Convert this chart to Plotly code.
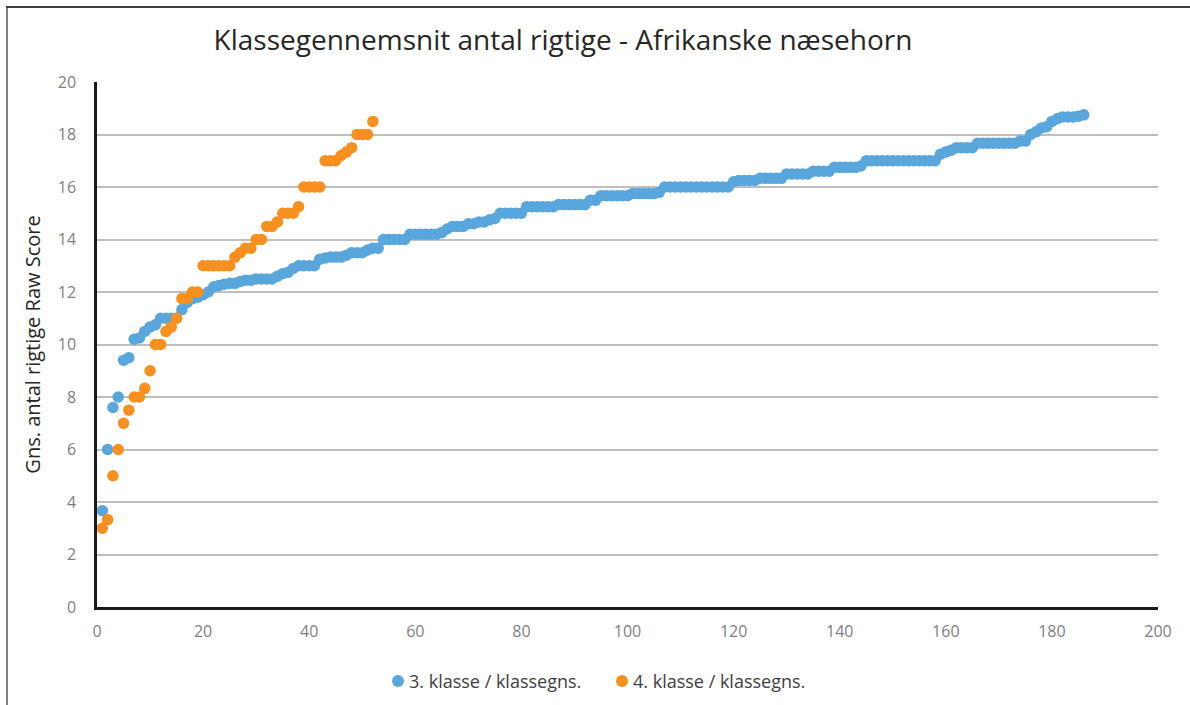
"""
Klassegennemsnit antal rigtige - Afrikanske naesehorn
Scatter of class averages, sorted ascending
"""
import plotly.graph_objects as go

TITLE = "Klassegennemsnit antal rigtige - Afrikanske næsehorn"
Y_TITLE = "Gns. antal rigtige Raw Score"
SERIES_NAMES = ["3. klasse / klassegns.", "4. klasse / klassegns."]

# 3. klasse, 186 classes sorted by average
grade3_scores = [
    3.67, 6.0, 7.6, 8.0, 9.4, 9.5, 10.2, 10.25, 10.5, 10.67,
    10.75, 11.0, 11.0, 11.0, 11.0, 11.33, 11.6, 11.75, 11.8, 11.9,
    12.0, 12.2, 12.25, 12.3, 12.33, 12.33, 12.4, 12.45, 12.45, 12.5,
    12.5, 12.5, 12.5, 12.6, 12.7, 12.75, 12.9, 13.0, 13.0, 13.0,
    13.0, 13.25, 13.3, 13.33, 13.33, 13.33, 13.4, 13.5, 13.5, 13.5,
    13.6, 13.67, 13.67, 14.0, 14.0, 14.0, 14.0, 14.0, 14.2, 14.2,
    14.2, 14.2, 14.2, 14.2, 14.27, 14.4, 14.5, 14.5, 14.5, 14.6,
    14.6, 14.67, 14.67, 14.75, 14.8, 15.0, 15.0, 15.0, 15.0, 15.0,
    15.25, 15.25, 15.25, 15.25, 15.25, 15.25, 15.33, 15.33, 15.33, 15.33,
    15.33, 15.33, 15.5, 15.5, 15.67, 15.67, 15.67, 15.67, 15.67, 15.67,
    15.75, 15.75, 15.75, 15.75, 15.75, 15.8, 16.0, 16.0, 16.0, 16.0,
    16.0, 16.0, 16.0, 16.0, 16.0, 16.0, 16.0, 16.0, 16.0, 16.2,
    16.25, 16.25, 16.25, 16.25, 16.33, 16.33, 16.33, 16.33, 16.33, 16.5,
    16.5, 16.5, 16.5, 16.5, 16.6, 16.6, 16.6, 16.6, 16.75, 16.75,
    16.75, 16.75, 16.75, 16.8, 17.0, 17.0, 17.0, 17.0, 17.0, 17.0,
    17.0, 17.0, 17.0, 17.0, 17.0, 17.0, 17.0, 17.0, 17.25, 17.33,
    17.4, 17.5, 17.5, 17.5, 17.5, 17.67, 17.67, 17.67, 17.67, 17.67,
    17.67, 17.67, 17.67, 17.75, 17.75, 18.0, 18.1, 18.25, 18.3, 18.5,
    18.6, 18.67, 18.67, 18.67, 18.7, 18.75,
]

# 4. klasse, 52 classes sorted by average
grade4_scores = [
    3.0, 3.33, 5.0, 6.0, 7.0, 7.5, 8.0, 8.0, 8.33, 9.0,
    10.0, 10.0, 10.5, 10.67, 11.0, 11.75, 11.75, 12.0, 12.0, 13.0,
    13.0, 13.0, 13.0, 13.0, 13.0, 13.33, 13.5, 13.67, 13.67, 14.0,
    14.0, 14.5, 14.5, 14.67, 15.0, 15.0, 15.0, 15.25, 16.0, 16.0,
    16.0, 16.0, 17.0, 17.0, 17.0, 17.2, 17.33, 17.5, 18.0, 18.0,
    18.0, 18.5,
]

grade3_rank = list(range(1, len(grade3_scores) + 1))
grade4_rank = list(range(1, len(grade4_scores) + 1))

x_ticks = [0, 20, 40, 60, 80, 100, 120, 140, 160, 180, 200]
y_ticks = [0, 2, 4, 6, 8, 10, 12, 14, 16, 18, 20]

BLUE = "#58A6DC"
ORANGE = "#F7901E"
FONT = "Open Sans, Noto Sans, sans-serif"

fig = go.Figure()
fig.add_trace(go.Scatter(
    x=grade3_rank, y=grade3_scores, mode="markers", name=SERIES_NAMES[0],
    marker=dict(color=BLUE, size=11.5, line=dict(width=0)), showlegend=False,
))
fig.add_trace(go.Scatter(
    x=grade4_rank, y=grade4_scores, mode="markers", name=SERIES_NAMES[1],
    marker=dict(color=ORANGE, size=11.5, line=dict(width=0)), showlegend=False,
))

# plot area: x 97..1158 px, y 82..607 px
L, R, T, B = 97, 32, 82, 98
W, H = 1190, 705
pw, ph = W - L - R, H - T - B


def px_x(p):
    return (p - L) / pw


def px_y(p):
    return (H - B - p) / ph


# legend drawn by hand (dot + text) so the spacing matches the Excel legend
legend_items = [
    (SERIES_NAMES[0], BLUE, 398),
    (SERIES_NAMES[1], ORANGE, 622),
]
LEGEND_Y = 681
annotations = []
legend_dots = []
for name, c, xp in legend_items:
    annotations.append(dict(
        text=name, x=px_x(xp + 9), y=px_y(LEGEND_Y), xref="paper", yref="paper",
        xanchor="left", yanchor="middle", showarrow=False,
        font=dict(size=18, color="#404040", family=FONT)))
    legend_dots.append(dict(
        type="circle", xref="paper", yref="paper",
        xsizemode="pixel", ysizemode="pixel",
        xanchor=px_x(xp), yanchor=px_y(LEGEND_Y),
        x0=-6, x1=6, y0=-6, y1=6,
        fillcolor=c, line=dict(width=0)))

fig.update_layout(
    width=W, height=H,
    margin=dict(l=L, r=R, t=T, b=B),
    paper_bgcolor="white", plot_bgcolor="white",
    font=dict(family=FONT, color="#595959"),
    title=dict(text=TITLE, x=563 / W, xanchor="center", y=1 - 40 / H, yanchor="middle",
               font=dict(size=28, color="#262626", family=FONT)),
    showlegend=False,
    annotations=annotations,
    xaxis=dict(range=[0, 200], tickvals=x_ticks, showgrid=False, zeroline=False,
               showline=True, linecolor="#1a1a1a", linewidth=2.5,
               ticks="", tickfont=dict(size=16, color="#7f7f7f"), ticklabelstandoff=8),
    yaxis=dict(range=[0, 20], tickvals=y_ticks, showgrid=True, gridcolor="#bfbfbf",
               gridwidth=1.5, zeroline=False, showline=True, linecolor="#1a1a1a",
               linewidth=2.5, ticks="", tickfont=dict(size=16, color="#7f7f7f"),
               ticklabelstandoff=15,
               title=dict(text=Y_TITLE, font=dict(size=20, color="#262626"), standoff=12)),
    shapes=[
        dict(type="line", xref="paper", yref="paper",
             x0=px_x(7), x1=px_x(7), y0=px_y(7), y1=px_y(720),
             line=dict(color="#808080", width=2)),
        dict(type="line", xref="paper", yref="paper",
             x0=px_x(6), x1=px_x(1200), y0=px_y(7), y1=px_y(7),
             line=dict(color="#404040", width=2)),
    ] + legend_dots,
)

# drop the browser's default 8px body margin so the figure sits at 0,0
fig.write_html("out.html", config={"displayModeBar": False},
               post_script="document.body.style.margin='0';")
